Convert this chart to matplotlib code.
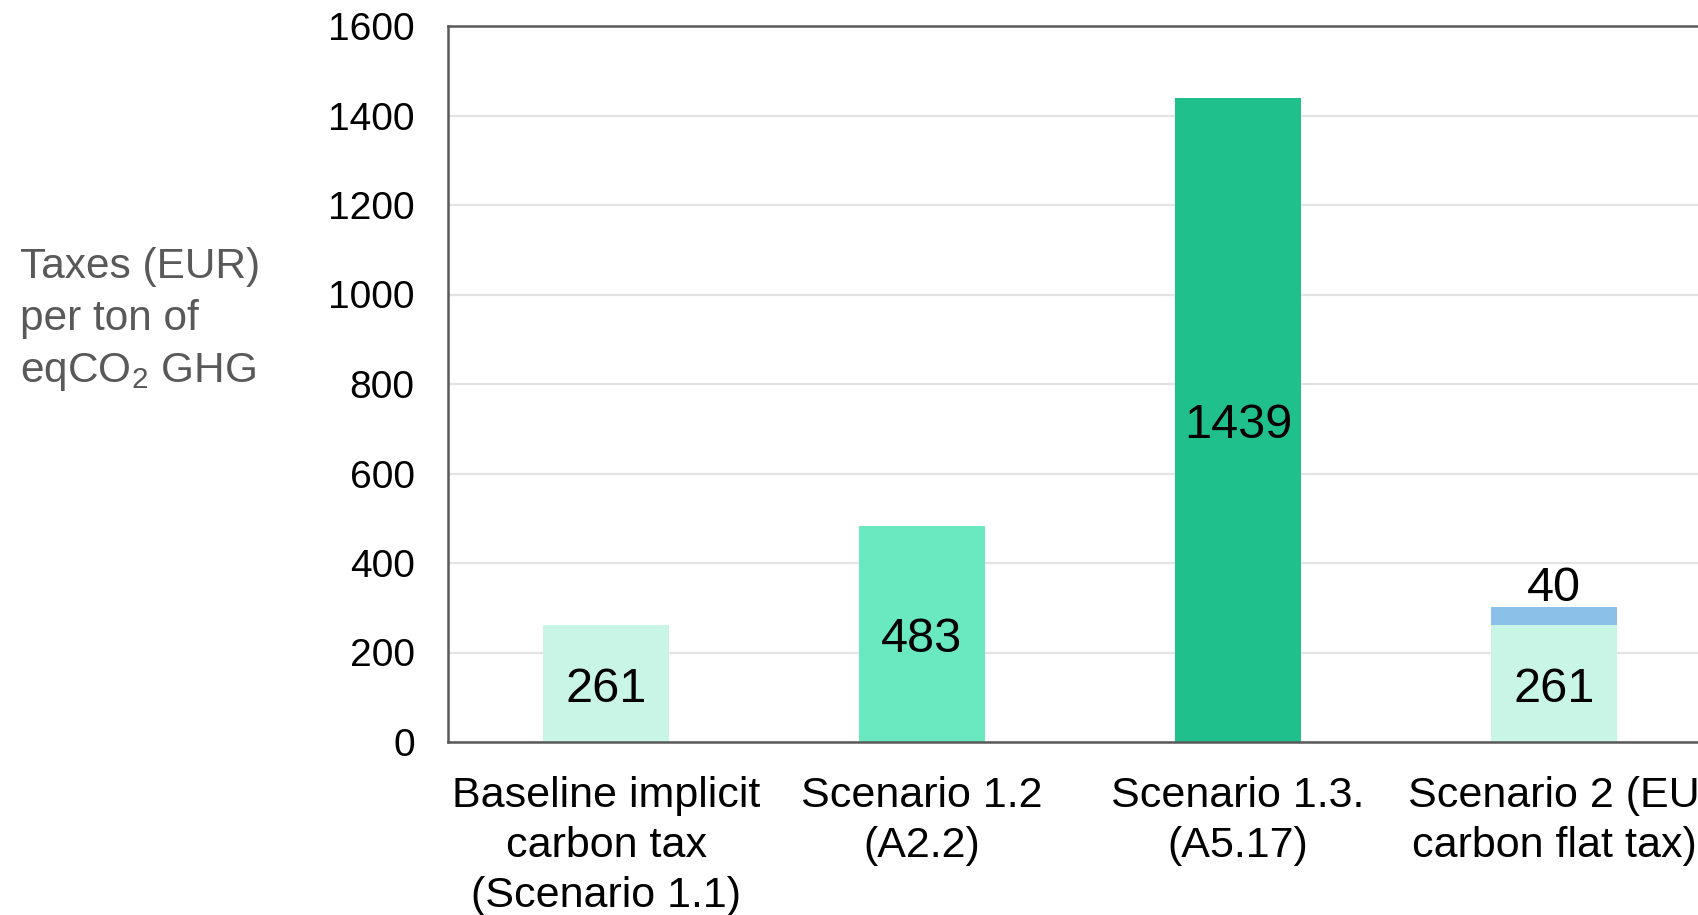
import matplotlib.pyplot as plt
import numpy as np

plt.rcParams["font.family"] = ["Liberation Sans", "DejaVu Sans"]
plt.rcParams["mathtext.fontset"] = "custom"
plt.rcParams["mathtext.rm"] = "Liberation Sans"
plt.rcParams["mathtext.it"] = "Liberation Sans"

# Carbon tax per ton of eqCO2 for each scenario
categories = [
    "Baseline implicit\ncarbon tax\n(Scenario 1.1)",
    "Scenario 1.2\n(A2.2)",
    "Scenario 1.3.\n(A5.17)",
    "Scenario 2 (EU\ncarbon flat tax)",
]
base_values = [261, 483, 1439, 261]
extra_values = [0, 0, 0, 40]
base_colors = ["#c9f5e6", "#6ae8c0", "#20c08c", "#c9f5e6"]
extra_color = "#8bc1e9"

fig = plt.figure(figsize=(16.98, 9.15), dpi=100)
W, H = 1698, 915
# axes run past the right edge of the figure
ax = fig.add_axes([448 / W, (H - 742) / H, (1712 - 448) / W, (742 - 26) / H])

x = np.arange(len(categories))
width = 0.4
ax.bar(x, base_values, width, color=base_colors, zorder=2)
ax.bar(x, extra_values, width, bottom=base_values, color=extra_color, zorder=2)

for xi, b, e in zip(x, base_values, extra_values):
    ax.annotate(f"{b}", (xi, b / 2), xytext=(0, -4), textcoords="offset points",
                ha="center", va="center", fontsize=35, color="black", zorder=3)
    if e:
        ax.annotate(f"{e}", (xi, b + e), xytext=(0, -3), textcoords="offset points",
                    ha="center", va="bottom", fontsize=35, color="black")

ax.set_xlim(-0.5, len(categories) - 0.5)
ax.set_ylim(0, 1600)
ax.set_yticks(np.arange(0, 1601, 200))
ax.set_xticks(x)
ax.set_xticklabels(categories, fontsize=31, linespacing=1.33)
ax.tick_params(axis="y", length=0, pad=24, labelsize=28)
ax.tick_params(axis="x", length=0, pad=24.5)
ax.yaxis.grid(True, color="#e3e3e3", linewidth=1.6, zorder=0)
ax.set_axisbelow(True)
for side in ["left", "bottom", "top", "right"]:
    ax.spines[side].set_color("#595959")
    ax.spines[side].set_linewidth(1.8)

fig.text(20 / W, 1 - 320 / H, "Taxes (EUR)\nper ton of\neqCO$_2$ GHG", ha="left", va="center",
         fontsize=30.5, color="#595959", linespacing=1.38)

fig.savefig("out.png", dpi=100)
